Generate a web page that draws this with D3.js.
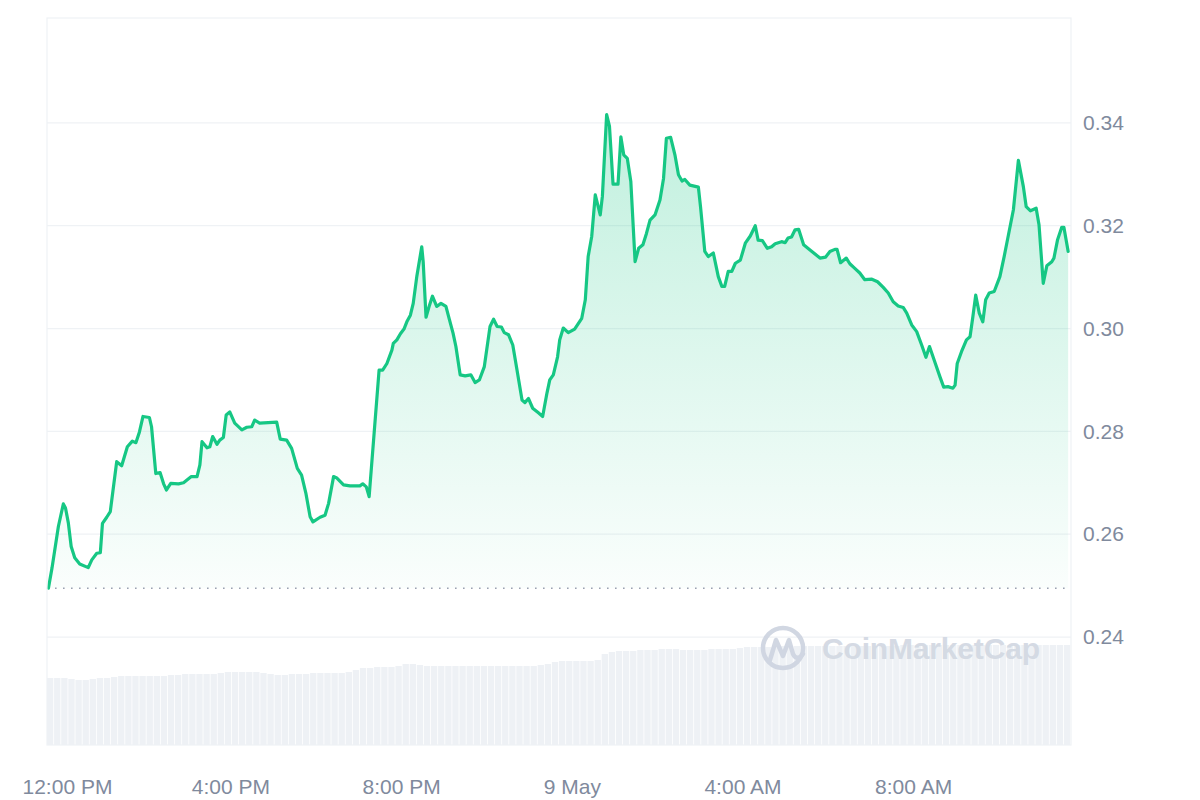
<!DOCTYPE html>
<html>
<head>
<meta charset="utf-8">
<script src="https://cdn.jsdelivr.net/npm/d3@7"></script>
<style>
  body { margin: 0; background: #fff; overflow: hidden; }
  text { font-family: "Liberation Sans", Arial, sans-serif; }
</style>
</head>
<body>
<div class="chart"></div>
<script>
var svgWidth = 1200;
var svgHeight = 800;

var margin = {
  top: 18,
  right: 129,
  bottom: 55,
  left: 47
};

var width = svgWidth - margin.left - margin.right;
var height = svgHeight - margin.top - margin.bottom;

// chart window starts 11:42 AM on 8 May, runs 24h
var startTime = new Date(2024, 4, 8, 11, 42);
var spanMinutes = 1440;

// [minutes after start, price]
var pricePoints = [
  [2,.2495],[7,.2534],[16,.2615],[23,.2659],[26,.2651],[30,.2622],[34,.2576],[39,.2554],[46,.2542],[58,.2535],
  [63,.2550],[70,.2563],[75,.2564],[78,.2621],[84,.2633],[89,.2644],[98,.2741],[105,.2733],[113,.2770],[120,.2781],
  [125,.2778],[130,.2799],[135,.2829],[144,.2827],[147,.2809],[153,.2718],[159,.2720],[164,.2698],[168,.2686],[174,.2699],
  [185,.2698],[192,.2700],[203,.2712],[211,.2712],[215,.2735],[218,.2780],[225,.2768],[229,.2770],[233,.2790],[239,.2775],
  [243,.2783],[248,.2788],[252,.2832],[257,.2838],[264,.2816],[274,.2803],[281,.2808],[288,.2809],[292,.2822],[299,.2816],
  [323,.2818],[328,.2785],[337,.2783],[344,.2767],[352,.2728],[358,.2715],[364,.2680],[370,.2634],[374,.2624],[384,.2633],
  [391,.2637],[396,.2660],[403,.2712],[407,.2710],[417,.2696],[426,.2694],[440,.2694],[444,.2698],[449,.2692],[453,.2673],
  [460,.2796],[467,.2919],[472,.2919],[478,.2932],[485,.2958],[487,.2971],[492,.2978],[497,.2990],[502,.2999],[506,.3013],
  [511,.3026],[515,.3049],[520,.3101],[527,.3159],[529,.3130],[533,.3022],[538,.3046],[542,.3063],[548,.3043],[554,.3049],
  [561,.3043],[566,.3017],[571,.2991],[575,.2965],[581,.2910],[588,.2908],[596,.2910],[602,.2895],[608,.2900],[615,.2926],
  [623,.3004],[628,.3018],[633,.3004],[639,.3003],[643,.2992],[649,.2988],[655,.2968],[661,.2919],[668,.2861],[672,.2856],
  [677,.2864],[683,.2845],[691,.2836],[697,.2829],[703,.2874],[707,.2900],[712,.2910],[718,.2945],[721,.2978],[726,.3001],
  [733,.2992],[742,.2999],[752,.3020],[757,.3056],[761,.3140],[766,.3179],[771,.3260],[778,.3221],[781,.3257],[787,.3416],
  [791,.3393],[796,.3281],[803,.3281],[807,.3373],[811,.3338],[816,.3331],[821,.3286],[827,.3130],[832,.3156],[838,.3163],
  [843,.3185],[848,.3211],[855,.3221],[862,.3250],[867,.3292],[871,.3370],[877,.3372],[883,.3338],[888,.3299],[893,.3287],
  [897,.3290],[904,.3279],[916,.3275],[919,.3237],[925,.3150],[930,.3140],[937,.3147],[944,.3101],[949,.3082],[953,.3082],
  [958,.3111],[963,.3111],[968,.3127],[975,.3133],[982,.3166],[989,.3180],[996,.3200],[1000,.3172],[1006,.3171],[1013,.3156],
  [1019,.3159],[1024,.3165],[1033,.3169],[1038,.3167],[1042,.3176],[1047,.3178],[1052,.3192],[1057,.3193],[1064,.3163],[1073,.3153],
  [1080,.3145],[1087,.3137],[1095,.3139],[1101,.3150],[1108,.3154],[1111,.3154],[1116,.3128],[1124,.3137],[1129,.3126],[1136,.3117],
  [1143,.3108],[1150,.3095],[1160,.3096],[1168,.3091],[1176,.3080],[1183,.3069],[1190,.3052],[1197,.3044],[1204,.3041],[1209,.3030],
  [1216,.3007],[1223,.2994],[1230,.2968],[1236,.2944],[1241,.2965],[1249,.2933],[1256,.2905],[1261,.2886],[1267,.2887],[1274,.2884],
  [1277,.2890],[1280,.2932],[1286,.2955],[1293,.2978],[1298,.2984],[1302,.3023],[1306,.3065],[1311,.3030],[1316,.3013],[1320,.3056],
  [1325,.3069],[1332,.3072],[1340,.3101],[1346,.3140],[1352,.3182],[1359,.3231],[1366,.3327],[1373,.3276],[1377,.3237],[1383,.3229],
  [1391,.3234],[1395,.3202],[1401,.3088],[1406,.3122],[1413,.3130],[1416,.3137],[1421,.3172],[1427,.3197],[1430,.3197],[1436,.3150]
];

var openPrice = 0.2495;

// 24h volume, one bucket per 10 minutes (relative units), 144 buckets
var volumeValues = [
  67,67,67,66,65,65,66,67,67,68,
  69,69,69,69,69,69,69,70,70,71,
  71,71,71,71,72,73,73,73,73,73,
  72,71,70,70,71,71,71,72,72,72,
  72,72,73,75,77,77,78,78,78,79,
  81,81,80,79,79,79,79,79,79,79,
  79,79,79,79,79,79,79,79,79,80,
  81,83,84,84,84,84,84,85,91,93,
  94,94,94,95,95,95,96,96,96,95,
  95,95,95,96,96,96,96,97,98,98,
  98,98,99,99,99,99,99,99,99,99,
  99,99,99,99,99,99,99,99,99,99,
  100,100,100,100,100,100,100,100,100,100,
  100,100,100,100,100,100,100,100,100,100,
  100,100,100,100
];

var yTickValues = [0.24, 0.26, 0.28, 0.30, 0.32, 0.34];
var xTickMinutes = [18, 258, 498, 738, 978, 1218];
var xTickLabels = ["12:00 PM", "4:00 PM", "8:00 PM", "9 May", "4:00 AM", "8:00 AM"];

var green = "#16c784";
var axisGrey = "#808a9d";
var gridGrey = "#eff2f5";

var svg = d3.select(".chart")
  .append("svg")
  .attr("width", svgWidth)
  .attr("height", svgHeight)
  .style("display", "block");

var chartGroup = svg.append("g")
  .attr("transform", `translate(${margin.left}, ${margin.top})`);

var toTime = m => d3.timeMinute.offset(startTime, m);

var xTimeScale = d3.scaleTime()
  .domain([startTime, toTime(spanMinutes)])
  .range([0, width]);

var yLinearScale = d3.scaleLinear()
  .domain([0.219, 0.3604])
  .range([height, 0]);

var yVolumeScale = d3.scaleLinear()
  .domain([0, 100])
  .range([height, height - 100]);

// gradient for the area under the price
var defs = svg.append("defs");
var grad = defs.append("linearGradient")
  .attr("id", "priceFill")
  .attr("gradientUnits", "userSpaceOnUse")
  .attr("x1", 0).attr("x2", 0)
  .attr("y1", yLinearScale(d3.max(pricePoints, d => d[1])))
  .attr("y2", yLinearScale(openPrice));
grad.append("stop").attr("offset", "0%").attr("stop-color", green).attr("stop-opacity", 0.27);
grad.append("stop").attr("offset", "100%").attr("stop-color", green).attr("stop-opacity", 0.02);

// horizontal grid
chartGroup.append("g")
  .selectAll("line")
  .data(yTickValues)
  .enter()
  .append("line")
  .attr("x1", 0)
  .attr("x2", width)
  .attr("y1", d => yLinearScale(d))
  .attr("y2", d => yLinearScale(d))
  .attr("stroke", gridGrey)
  .attr("stroke-width", 1.2);

// volume bars
var barStep = xTimeScale(toTime(10)) - xTimeScale(toTime(0));
chartGroup.append("g")
  .selectAll("rect")
  .data(volumeValues)
  .enter()
  .append("rect")
  .attr("x", (d, i) => xTimeScale(toTime(i * 10)))
  .attr("y", d => yVolumeScale(d))
  .attr("width", barStep - 0.8)
  .attr("height", d => height - yVolumeScale(d))
  .attr("fill", "#eef1f5");

// watermark
var mark = svg.append("g").attr("opacity", 0.95);
mark.append("circle")
  .attr("cx", 783).attr("cy", 648).attr("r", 20)
  .attr("fill", "none")
  .attr("stroke", "#cfd5e1")
  .attr("stroke-width", 4.5);
mark.append("path")
  .attr("d", "M770,660 L776,640 L783,656 L789,640 L793,654 C796,660 800,658 803,654")
  .attr("fill", "none")
  .attr("stroke", "#cfd5e1")
  .attr("stroke-width", 4.5)
  .attr("stroke-linejoin", "round")
  .attr("stroke-linecap", "round");
mark.append("text")
  .attr("x", 822)
  .attr("y", 659)
  .attr("font-size", 30)
  .attr("font-weight", "bold")
  .attr("textLength", 218)
  .attr("fill", "#d3d9e3")
  .text("CoinMarketCap");

// area under the line
var drawArea = d3.area()
  .x(d => xTimeScale(toTime(d[0])))
  .y0(yLinearScale(openPrice))
  .y1(d => yLinearScale(d[1]));

chartGroup.append("path")
  .attr("d", drawArea(pricePoints))
  .attr("fill", "url(#priceFill)");

// dotted open price line
chartGroup.append("line")
  .attr("x1", 0)
  .attr("x2", width)
  .attr("y1", yLinearScale(openPrice))
  .attr("y2", yLinearScale(openPrice))
  .attr("stroke", "#9aa1b1")
  .attr("stroke-width", 1.6)
  .attr("stroke-dasharray", "1.6,6.4");

var drawLine = d3.line()
  .x(d => xTimeScale(toTime(d[0])))
  .y(d => yLinearScale(d[1]));

chartGroup.append("path")
  .attr("d", drawLine(pricePoints))
  .attr("fill", "none")
  .attr("stroke", green)
  .attr("stroke-width", 3.2)
  .attr("stroke-linejoin", "round")
  .attr("stroke-linecap", "round");

// frame
chartGroup.append("rect")
  .attr("x", 0).attr("y", 0)
  .attr("width", width).attr("height", height)
  .attr("fill", "none")
  .attr("stroke", gridGrey)
  .attr("stroke-width", 1.2);

// axes
var rightAxis = d3.axisRight(yLinearScale)
  .tickValues(yTickValues)
  .tickSize(0)
  .tickPadding(12)
  .tickFormat(d3.format(".2f"));

chartGroup.append("g")
  .attr("transform", `translate(${width}, 0)`)
  .call(rightAxis)
  .call(g => g.select(".domain").remove())
  .selectAll("text")
  .attr("fill", axisGrey)
  .attr("font-size", 21)
  .style("font-family", "'Liberation Sans', Arial, sans-serif");

var bottomAxis = d3.axisBottom(xTimeScale)
  .tickValues(xTickMinutes.map(toTime))
  .tickSize(0)
  .tickPadding(34)
  .tickFormat((d, i) => xTickLabels[i]);

var xAxisGroup = chartGroup.append("g")
  .attr("transform", `translate(0, ${height})`)
  .call(bottomAxis)
  .call(g => g.select(".domain").remove());

xAxisGroup.selectAll("text")
  .attr("fill", axisGrey)
  .attr("font-size", 21)
  .style("font-family", "'Liberation Sans', Arial, sans-serif")
  .each(function (d) {
    // keep the first label from running off the left edge
    var w = this.getComputedTextLength();
    var left = xTimeScale(d) - w / 2;
    if (left < -25) d3.select(this).attr("dx", -25 - left);
  });
</script>
</body>
</html>
